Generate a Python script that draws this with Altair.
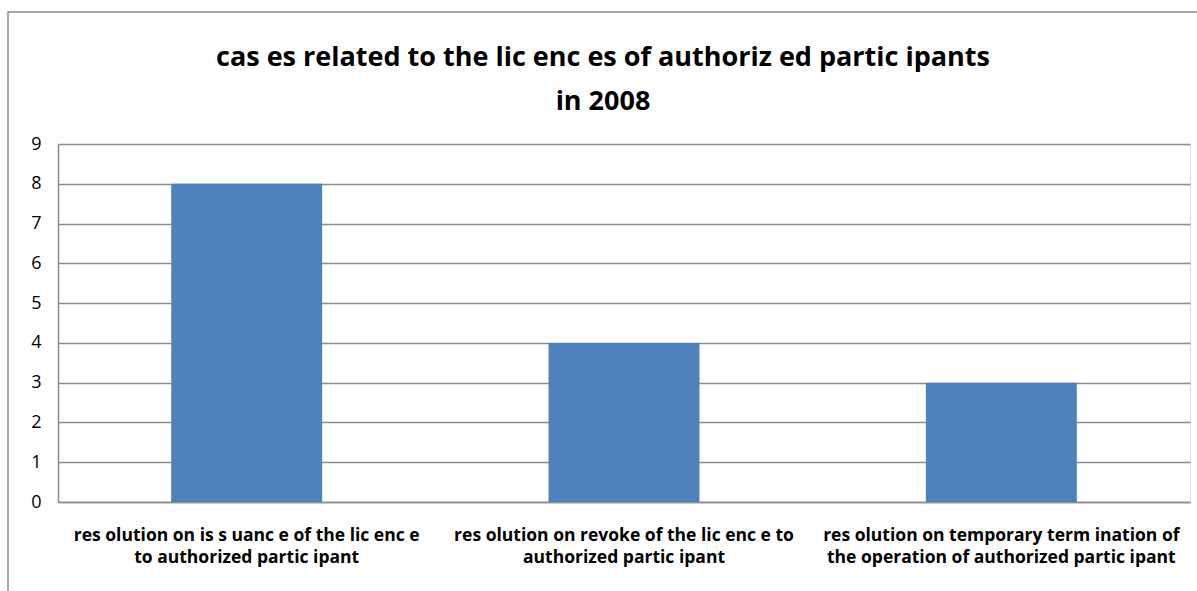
import altair as alt
import pandas as pd

categories = [
    "res olution on is s uanc e of the lic enc e\nto authorized partic ipant",
    "res olution on revoke of the lic enc e to\nauthorized partic ipant",
    "res olution on temporary term ination of\nthe operation of authorized partic ipant",
]
values = [8, 4, 3]
y_ticks = [0, 1, 2, 3, 4, 5, 6, 7, 8, 9]
title_lines = ["cas es  related to the lic enc es  of authoriz ed partic ipants", "in 2008"]

df = pd.DataFrame({"category": categories, "value": values})
title_df = pd.DataFrame({"k": [0]})

bars = alt.Chart(df).mark_bar(color="#4F81BD").encode(
    x=alt.X(
        "category:N",
        sort=categories,
        title=None,
        scale=alt.Scale(paddingInner=0.6, paddingOuter=0.3),
        axis=alt.Axis(
            labelAngle=0,
            labelExpr="split(datum.label, '\\n')",
            labelFont="Open Sans",
            labelFontWeight="bold",
            labelFontSize=17.5,
            labelColor="#000000",
            labelLineHeight=22,
            labelPadding=24,
            labelLimit=420,
            ticks=False,
            domainColor="#8c8c8c",
            domainWidth=1.5,
        ),
    ),
    y=alt.Y(
        "value:Q",
        title=None,
        scale=alt.Scale(domain=[0, 9], nice=False),
        axis=alt.Axis(
            values=y_ticks,
            labelFont="Open Sans",
            labelFontSize=18,
            labelColor="#000000",
            labelPadding=17,
            ticks=False,
            domainColor="#8c8c8c",
            domainWidth=1.5,
            gridColor="#8c8c8c",
            gridWidth=1.5,
        ),
    ),
)

frame = alt.Chart(title_df).mark_rect(fill=None, stroke="#8c8c8c", strokeWidth=1.5).encode(
    x=alt.value(-50), x2=alt.value(1300), y=alt.value(-132), y2=alt.value(700)
)

title = alt.Chart(title_df).mark_text(
    text=title_lines,
    font="Open Sans",
    fontSize=27,
    fontWeight="bold",
    color="#000000",
    lineHeight=44,
    align="center",
    baseline="alphabetic",
).encode(x=alt.value(545), y=alt.value(-78))

chart = alt.layer(frame, title, bars).properties(
    width=1132,
    height=358,
    autosize=alt.AutoSizeParams(type="none"),
    padding={"left": 58, "top": 144, "right": 7, "bottom": 89},
).configure_view(stroke=None).configure(background="white")

chart.save("out.html", embed_options={"renderer": "svg", "actions": False})
